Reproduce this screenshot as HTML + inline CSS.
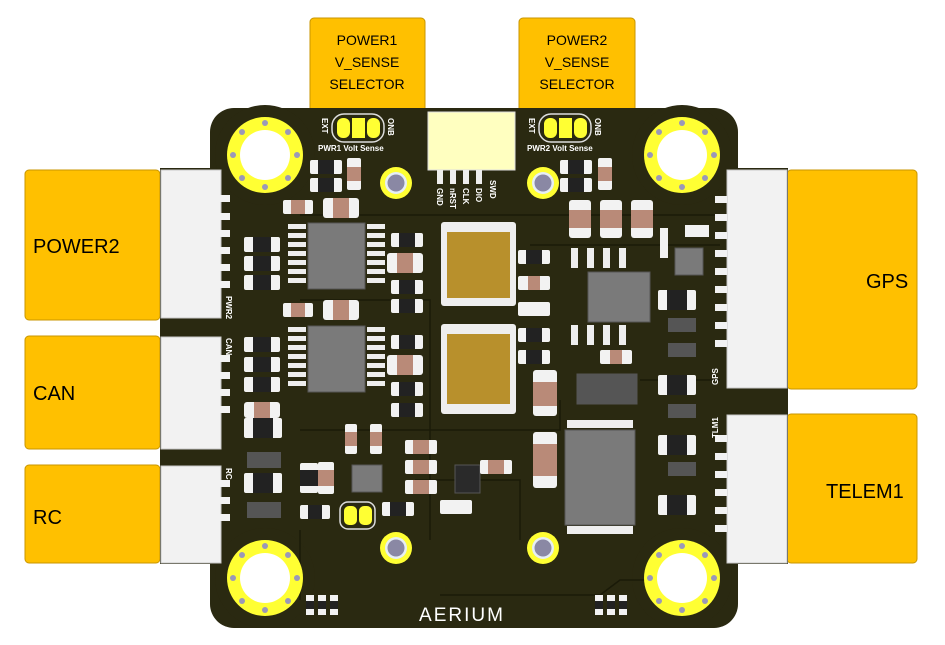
<!DOCTYPE html>
<html><head><meta charset="utf-8"><style>
html,body{margin:0;padding:0;background:#fff;}
svg{display:block;}
.lbl{font-family:"Liberation Sans",sans-serif;fill:#000;}
.sm{font-family:"Liberation Sans",sans-serif;fill:#fff;font-weight:bold;}
</style></head><body>
<svg width="945" height="645" viewBox="0 0 945 645" xmlns="http://www.w3.org/2000/svg">
<defs>
<g id="hole">
<circle r="38" fill="#ffff33"/><circle r="25" fill="#fff"/>
<g fill="#9a98b8"><circle cx="0" cy="-32" r="3"/><circle cx="0" cy="32" r="3"/><circle cx="-32" cy="0" r="3"/><circle cx="32" cy="0" r="3"/><circle cx="-23" cy="-23" r="3"/><circle cx="23" cy="-23" r="3"/><circle cx="-23" cy="23" r="3"/><circle cx="23" cy="23" r="3"/></g>
</g>
<g id="via"><circle r="16" fill="#ffff33"/><circle r="11" fill="#e6eef5"/><circle r="8.5" fill="#8a88a4"/></g>
</defs>
<rect width="945" height="645" fill="#fff"/>
<g stroke="#c89600" stroke-width="1" fill="#ffc000">
<rect x="25" y="170" width="135" height="150" rx="4"/>
<rect x="25" y="336" width="135" height="113" rx="4"/>
<rect x="25" y="465" width="135" height="98" rx="4"/>
<rect x="787" y="170" width="130" height="219" rx="4"/>
<rect x="787" y="414" width="130" height="149" rx="4"/>
<rect x="310" y="18" width="115" height="95" rx="4"/>
<rect x="519" y="18" width="116" height="95" rx="4"/>
</g>
<g class="lbl" font-size="20">
<text x="33" y="253">POWER2</text>
<text x="33" y="400">CAN</text>
<text x="33" y="524">RC</text>
<text x="866" y="288">GPS</text>
<text x="826" y="498">TELEM1</text>
</g>
<g class="lbl" font-size="14" text-anchor="middle">
<text x="367" y="45">POWER1</text><text x="367" y="67">V_SENSE</text><text x="367" y="89">SELECTOR</text>
<text x="577" y="45">POWER2</text><text x="577" y="67">V_SENSE</text><text x="577" y="89">SELECTOR</text>
</g>
<g fill="#2a2911">
<rect x="210" y="108" width="528" height="520" rx="24"/>
<rect x="160" y="168" width="628" height="396"/>
<circle cx="265" cy="155" r="50"/><circle cx="682" cy="155" r="50"/>
<circle cx="265" cy="578" r="50"/><circle cx="682" cy="578" r="50"/>
</g>
<g stroke="#1a1a08" stroke-width="1.5" fill="none">
<path d="M300 215 H720"/><path d="M300 300 H430 V410"/><path d="M530 245 H720"/>
<path d="M520 430 H560 V400"/><path d="M300 430 H520"/><path d="M430 410 V540"/>
<path d="M415 480 H520 V540"/><path d="M440 595 H600 L620 580 H700"/>
<path d="M300 530 V600"/><path d="M640 380 H720"/>
</g>
<g fill="#f2f2f2" stroke="#c8c8c8" stroke-width="1">
<rect x="161" y="170" width="60" height="148"/>
<rect x="161" y="337" width="60" height="112"/>
<rect x="161" y="466" width="60" height="97"/>
<rect x="727" y="170" width="60" height="218"/>
<rect x="727" y="415" width="60" height="148"/>
</g>
<g fill="#f2f2f2">
<rect x="218" y="195" width="12" height="7"/><rect x="218" y="213" width="12" height="7"/><rect x="218" y="230" width="12" height="7"/><rect x="218" y="247" width="12" height="7"/><rect x="218" y="264" width="12" height="7"/><rect x="218" y="281" width="12" height="7"/>
<rect x="218" y="355" width="12" height="7"/><rect x="218" y="372" width="12" height="7"/><rect x="218" y="389" width="12" height="7"/><rect x="218" y="406" width="12" height="7"/>
<rect x="218" y="480" width="12" height="7"/><rect x="218" y="497" width="12" height="7"/><rect x="218" y="514" width="12" height="7"/>
<rect x="715" y="196" width="12" height="7"/><rect x="715" y="214" width="12" height="7"/><rect x="715" y="232" width="12" height="7"/><rect x="715" y="250" width="12" height="7"/><rect x="715" y="268" width="12" height="7"/><rect x="715" y="286" width="12" height="7"/><rect x="715" y="304" width="12" height="7"/><rect x="715" y="322" width="12" height="7"/><rect x="715" y="340" width="12" height="7"/>
<rect x="715" y="435" width="12" height="7"/><rect x="715" y="453" width="12" height="7"/><rect x="715" y="471" width="12" height="7"/><rect x="715" y="489" width="12" height="7"/><rect x="715" y="507" width="12" height="7"/><rect x="715" y="525" width="12" height="7"/>
</g>
<g class="sm" font-size="8">
<text transform="translate(226,296) rotate(90)">PWR2</text>
<text transform="translate(226,338) rotate(90)">CAN</text>
<text transform="translate(226,468) rotate(90)">RC</text>
<text transform="translate(718,385) rotate(-90)">GPS</text>
<text transform="translate(718,438) rotate(-90)">TLM1</text>
</g>
<use href="#hole" x="265" y="155"/><use href="#hole" x="682" y="155"/>
<use href="#hole" x="265" y="578"/><use href="#hole" x="682" y="578"/>
<use href="#via" x="396" y="183"/><use href="#via" x="543" y="183"/>
<use href="#via" x="396" y="548"/><use href="#via" x="543" y="548"/>
<rect x="428" y="112" width="87" height="58" fill="#ffffc0" stroke="#ddd"/>
<g fill="#eee"><rect x="437" y="170" width="6" height="14"/><rect x="450" y="170" width="6" height="14"/><rect x="463" y="170" width="6" height="14"/><rect x="476" y="170" width="6" height="14"/></g>
<g class="sm" font-size="8">
<text transform="translate(437,188) rotate(90)">GND</text><text transform="translate(450,188) rotate(90)">nRST</text>
<text transform="translate(463,188) rotate(90)">CLK</text><text transform="translate(476,188) rotate(90)">DIO</text>
<text transform="translate(490,180) rotate(90)">SWD</text>
<text x="318" y="151">PWR1 Volt Sense</text><text x="527" y="151">PWR2 Volt Sense</text>
<text transform="translate(322,118) rotate(90)">EXT</text><text transform="translate(388,118) rotate(90)">ONB</text>
<text transform="translate(529,118) rotate(90)">EXT</text><text transform="translate(595,118) rotate(90)">ONB</text>
</g>
<rect x="332" y="114" width="52" height="28" rx="12" fill="none" stroke="#ddd" stroke-width="1.5"/>
<g fill="#ffff33"><rect x="337" y="118" width="13" height="20" rx="6"/><rect x="352" y="118" width="13" height="20"/><rect x="367" y="118" width="13" height="20" rx="6"/></g>
<rect x="539" y="114" width="52" height="28" rx="12" fill="none" stroke="#ddd" stroke-width="1.5"/>
<g fill="#ffff33"><rect x="544" y="118" width="13" height="20" rx="6"/><rect x="559" y="118" width="13" height="20"/><rect x="574" y="118" width="13" height="20" rx="6"/></g>
<rect x="340" y="502" width="35" height="27" rx="8" fill="none" stroke="#ddd" stroke-width="1.5"/>
<g fill="#ffff33"><rect x="344" y="506" width="13" height="19" rx="5"/><rect x="359" y="506" width="13" height="19" rx="5"/></g>
<g fill="#7a7a7a" stroke="#555">
<rect x="308" y="223" width="57" height="66"/><rect x="308" y="326" width="57" height="66"/>
<rect x="588" y="272" width="62" height="50"/><rect x="565" y="430" width="70" height="95"/>
<rect x="675" y="248" width="28" height="27"/><rect x="352" y="465" width="30" height="27"/>
<rect x="455" y="465" width="25" height="28" fill="#2a2a2a"/>
<rect x="577" y="374" width="60" height="30" fill="#555"/>
</g>
<g fill="#eee">
<rect x="288" y="224" width="18" height="5"/><rect x="288" y="233" width="18" height="5"/><rect x="288" y="242" width="18" height="5"/><rect x="288" y="251" width="18" height="5"/><rect x="288" y="260" width="18" height="5"/><rect x="288" y="269" width="18" height="5"/><rect x="288" y="278" width="18" height="5"/>
<rect x="367" y="224" width="18" height="5"/><rect x="367" y="233" width="18" height="5"/><rect x="367" y="242" width="18" height="5"/><rect x="367" y="251" width="18" height="5"/><rect x="367" y="260" width="18" height="5"/><rect x="367" y="269" width="18" height="5"/><rect x="367" y="278" width="18" height="5"/>
<rect x="288" y="327" width="18" height="5"/><rect x="288" y="336" width="18" height="5"/><rect x="288" y="345" width="18" height="5"/><rect x="288" y="354" width="18" height="5"/><rect x="288" y="363" width="18" height="5"/><rect x="288" y="372" width="18" height="5"/><rect x="288" y="381" width="18" height="5"/>
<rect x="367" y="327" width="18" height="5"/><rect x="367" y="336" width="18" height="5"/><rect x="367" y="345" width="18" height="5"/><rect x="367" y="354" width="18" height="5"/><rect x="367" y="363" width="18" height="5"/><rect x="367" y="372" width="18" height="5"/><rect x="367" y="381" width="18" height="5"/>
<rect x="571" y="248" width="7" height="20"/><rect x="587" y="248" width="7" height="20"/><rect x="603" y="248" width="7" height="20"/><rect x="619" y="248" width="7" height="20"/>
<rect x="571" y="325" width="7" height="20"/><rect x="587" y="325" width="7" height="20"/><rect x="603" y="325" width="7" height="20"/><rect x="619" y="325" width="7" height="20"/>
<rect x="567" y="420" width="66" height="8"/><rect x="567" y="526" width="66" height="8"/>
</g>
<g>
<rect x="441" y="222" width="75" height="84" rx="3" fill="#eee"/><rect x="447" y="232" width="63" height="66" fill="#b8902c"/>
<rect x="441" y="324" width="75" height="90" rx="3" fill="#eee"/><rect x="447" y="334" width="63" height="70" fill="#b8902c"/>
</g>
<g fill="#f2f2f2">
<rect x="244" y="237" width="36" height="15" rx="2"/><rect x="244" y="256" width="36" height="15" rx="2"/><rect x="244" y="275" width="36" height="15" rx="2"/>
<rect x="244" y="337" width="36" height="15" rx="2"/><rect x="244" y="357" width="36" height="15" rx="2"/><rect x="244" y="377" width="36" height="15" rx="2"/>
<rect x="244" y="418" width="38" height="20" rx="2"/><rect x="244" y="473" width="38" height="20" rx="2"/>
<rect x="310" y="160" width="32" height="14" rx="2"/><rect x="310" y="178" width="32" height="14" rx="2"/>
<rect x="560" y="160" width="32" height="14" rx="2"/><rect x="560" y="178" width="32" height="14" rx="2"/>
<rect x="391" y="233" width="32" height="14" rx="2"/><rect x="391" y="280" width="32" height="14" rx="2"/><rect x="391" y="299" width="32" height="14" rx="2"/>
<rect x="391" y="335" width="32" height="14" rx="2"/><rect x="391" y="382" width="32" height="14" rx="2"/><rect x="391" y="403" width="32" height="14" rx="2"/>
<rect x="518" y="250" width="32" height="14" rx="2"/><rect x="518" y="302" width="32" height="14" rx="2"/><rect x="518" y="328" width="32" height="14" rx="2"/><rect x="518" y="350" width="32" height="14" rx="2"/>
<rect x="658" y="290" width="38" height="20" rx="2"/><rect x="658" y="375" width="38" height="20" rx="2"/><rect x="658" y="435" width="38" height="20" rx="2"/><rect x="658" y="495" width="38" height="20" rx="2"/>
<rect x="300" y="463" width="18" height="30" rx="2"/><rect x="300" y="505" width="30" height="14" rx="2"/>
<rect x="382" y="502" width="32" height="14" rx="2"/><rect x="440" y="500" width="32" height="14" rx="2"/>
<rect x="306" y="595" width="8" height="20"/><rect x="318" y="595" width="8" height="20"/><rect x="330" y="595" width="8" height="20"/>
<rect x="595" y="595" width="8" height="20"/><rect x="607" y="595" width="8" height="20"/><rect x="619" y="595" width="8" height="20"/>
</g>
<g fill="#222">
<rect x="253" y="237" width="18" height="15"/><rect x="253" y="256" width="18" height="15"/><rect x="253" y="275" width="18" height="15"/>
<rect x="253" y="337" width="18" height="15"/><rect x="253" y="357" width="18" height="15"/><rect x="253" y="377" width="18" height="15"/>
<rect x="253" y="418" width="20" height="20"/><rect x="253" y="473" width="20" height="20"/>
<rect x="318" y="160" width="16" height="14"/><rect x="318" y="178" width="16" height="14"/>
<rect x="568" y="160" width="16" height="14"/><rect x="568" y="178" width="16" height="14"/>
<rect x="399" y="233" width="16" height="14"/><rect x="399" y="280" width="16" height="14"/><rect x="399" y="299" width="16" height="14"/>
<rect x="399" y="335" width="16" height="14"/><rect x="399" y="382" width="16" height="14"/><rect x="399" y="403" width="16" height="14"/>
<rect x="526" y="250" width="16" height="14"/><rect x="526" y="328" width="16" height="14"/><rect x="526" y="350" width="16" height="14"/>
<rect x="667" y="290" width="20" height="20"/><rect x="667" y="375" width="20" height="20"/><rect x="667" y="435" width="20" height="20"/><rect x="667" y="495" width="20" height="20"/>
<rect x="300" y="470" width="18" height="16"/><rect x="308" y="505" width="14" height="14"/><rect x="390" y="502" width="16" height="14"/>
<rect x="306" y="601" width="8" height="8"/><rect x="318" y="601" width="8" height="8"/><rect x="330" y="601" width="8" height="8"/>
<rect x="595" y="601" width="8" height="8"/><rect x="607" y="601" width="8" height="8"/><rect x="619" y="601" width="8" height="8"/>
</g>
<g>
<rect x="283" y="200" width="30" height="14" rx="2" fill="#f2f2f2"/><rect x="291" y="200" width="14" height="14" fill="#b98a78"/>
<rect x="323" y="198" width="36" height="20" rx="3" fill="#f2f2f2"/><rect x="333" y="198" width="16" height="20" fill="#b98a78"/>
<rect x="347" y="158" width="14" height="32" rx="2" fill="#f2f2f2"/><rect x="347" y="167" width="14" height="14" fill="#b98a78"/>
<rect x="598" y="158" width="14" height="32" rx="2" fill="#f2f2f2"/><rect x="598" y="167" width="14" height="14" fill="#b98a78"/>
<rect x="283" y="303" width="30" height="14" rx="2" fill="#f2f2f2"/><rect x="291" y="303" width="14" height="14" fill="#b98a78"/>
<rect x="323" y="300" width="36" height="20" rx="3" fill="#f2f2f2"/><rect x="333" y="300" width="16" height="20" fill="#b98a78"/>
<rect x="387" y="253" width="36" height="20" rx="3" fill="#f2f2f2"/><rect x="397" y="253" width="16" height="20" fill="#b98a78"/>
<rect x="387" y="355" width="36" height="20" rx="3" fill="#f2f2f2"/><rect x="397" y="355" width="16" height="20" fill="#b98a78"/>
<rect x="244" y="402" width="36" height="16" rx="3" fill="#f2f2f2"/><rect x="254" y="402" width="16" height="16" fill="#b98a78"/>
<rect x="518" y="276" width="32" height="14" rx="2" fill="#f2f2f2"/><rect x="528" y="276" width="12" height="14" fill="#b98a78"/>
<rect x="569" y="200" width="22" height="38" rx="3" fill="#f2f2f2"/><rect x="569" y="210" width="22" height="18" fill="#b98a78"/>
<rect x="600" y="200" width="22" height="38" rx="3" fill="#f2f2f2"/><rect x="600" y="210" width="22" height="18" fill="#b98a78"/>
<rect x="631" y="200" width="22" height="38" rx="3" fill="#f2f2f2"/><rect x="631" y="210" width="22" height="18" fill="#b98a78"/>
<rect x="533" y="370" width="24" height="46" rx="3" fill="#f2f2f2"/><rect x="533" y="382" width="24" height="24" fill="#b98a78"/>
<rect x="533" y="432" width="24" height="56" rx="3" fill="#f2f2f2"/><rect x="533" y="444" width="24" height="32" fill="#b98a78"/>
<rect x="600" y="350" width="32" height="14" rx="2" fill="#f2f2f2"/><rect x="610" y="350" width="12" height="14" fill="#b98a78"/>
<rect x="345" y="424" width="12" height="30" rx="2" fill="#f2f2f2"/><rect x="345" y="432" width="12" height="14" fill="#b98a78"/>
<rect x="370" y="424" width="12" height="30" rx="2" fill="#f2f2f2"/><rect x="370" y="432" width="12" height="14" fill="#b98a78"/>
<rect x="318" y="462" width="16" height="32" rx="2" fill="#f2f2f2"/><rect x="318" y="470" width="16" height="16" fill="#b98a78"/>
<rect x="405" y="440" width="32" height="14" rx="2" fill="#f2f2f2"/><rect x="413" y="440" width="16" height="14" fill="#b98a78"/>
<rect x="405" y="460" width="32" height="14" rx="2" fill="#f2f2f2"/><rect x="413" y="460" width="16" height="14" fill="#b98a78"/>
<rect x="405" y="480" width="32" height="14" rx="2" fill="#f2f2f2"/><rect x="413" y="480" width="16" height="14" fill="#b98a78"/>
<rect x="480" y="460" width="32" height="14" rx="2" fill="#f2f2f2"/><rect x="488" y="460" width="16" height="14" fill="#b98a78"/>
<rect x="660" y="228" width="8" height="30" fill="#f2f2f2"/><rect x="685" y="225" width="24" height="12" fill="#f2f2f2"/>
</g>
<g>
<rect x="247" y="452" width="34" height="16" fill="#555"/><rect x="247" y="502" width="34" height="16" fill="#555"/>
<rect x="668" y="318" width="28" height="14" fill="#555"/><rect x="668" y="343" width="28" height="14" fill="#555"/>
<rect x="668" y="404" width="28" height="14" fill="#555"/><rect x="668" y="462" width="28" height="14" fill="#555"/>
</g>
<text x="462" y="621" text-anchor="middle" font-family="Liberation Sans,sans-serif" font-size="19" fill="#fff" letter-spacing="2">AERIUM</text>
</svg>
</body></html>
